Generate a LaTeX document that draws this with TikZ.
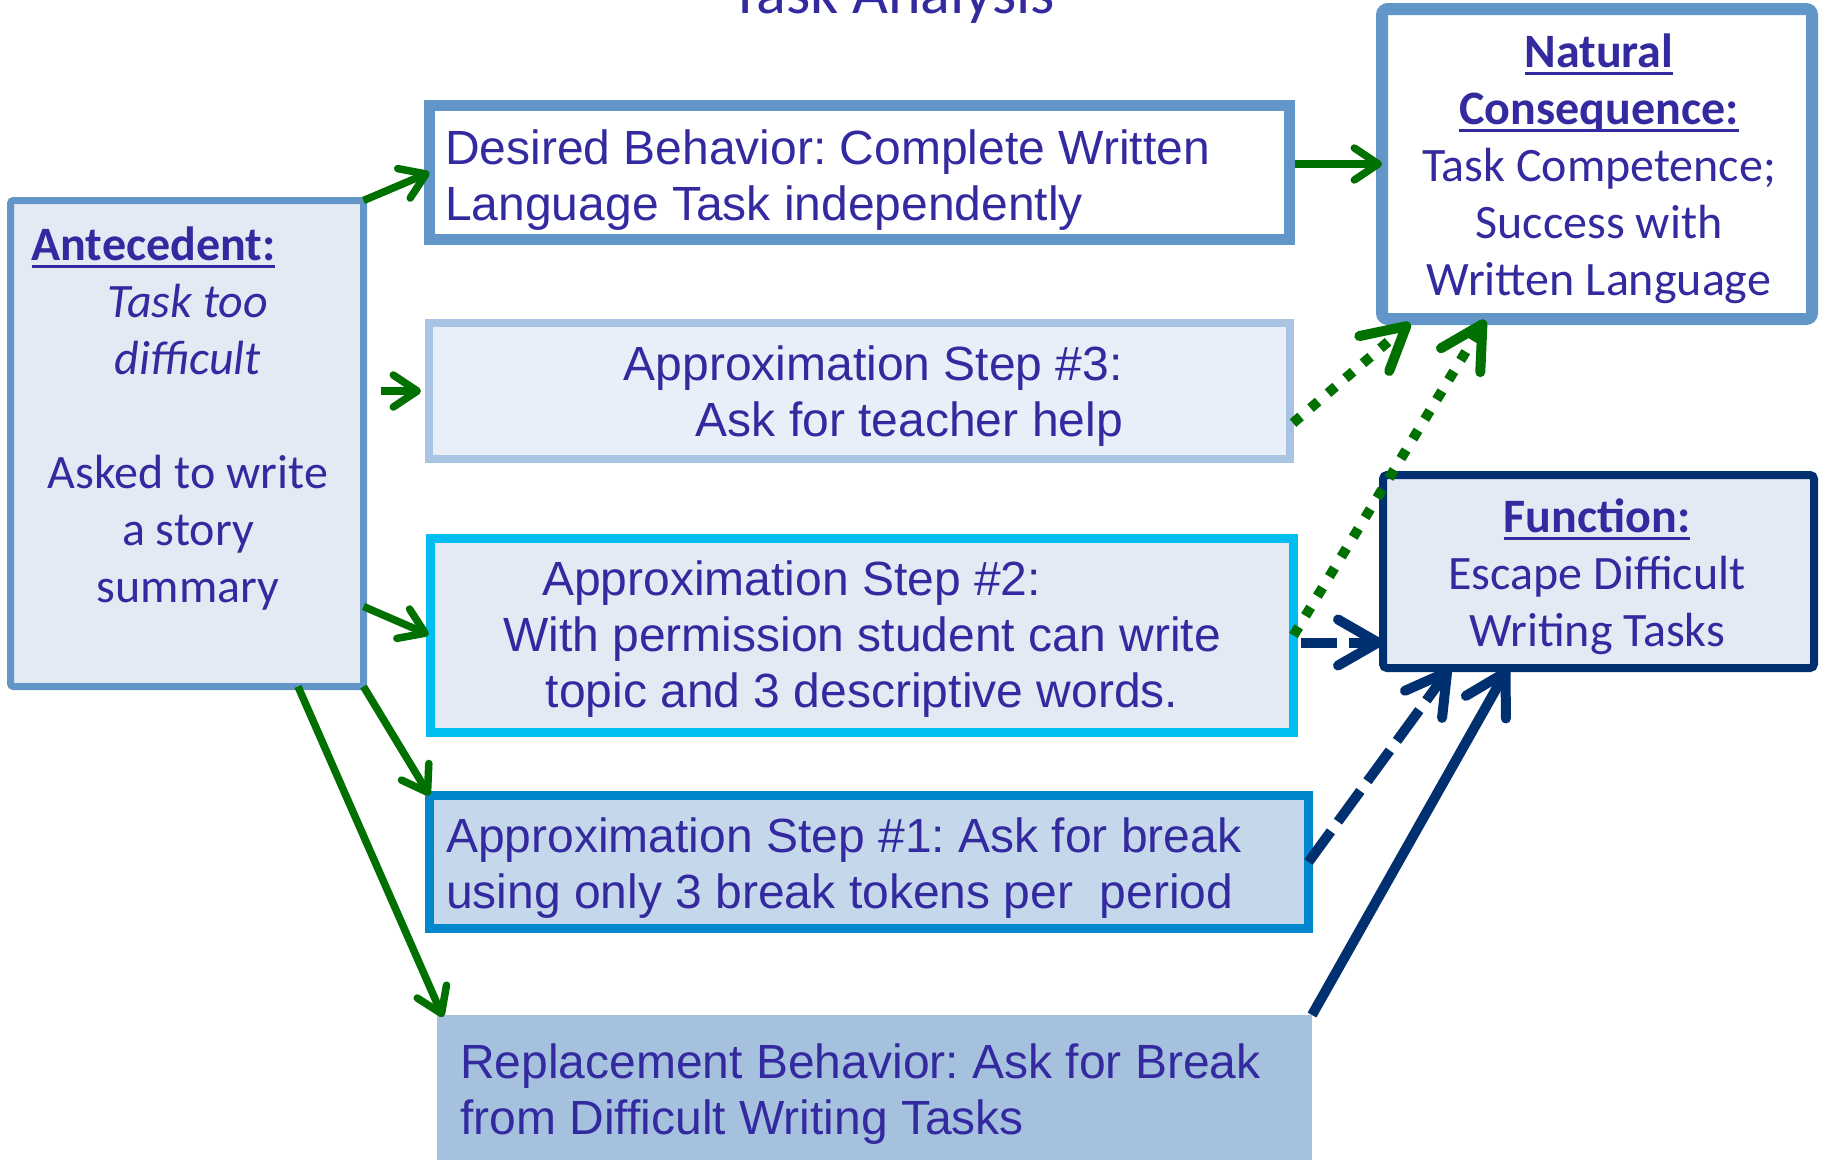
\documentclass[tikz,border=0pt]{standalone}
\usepackage{fontspec}
\setmainfont{Carlito}
\newfontfamily\arialfont{Liberation Sans}
\usetikzlibrary{positioning, calc, arrows.meta}
\definecolor{inkblue}{RGB}{51, 42, 160}
\definecolor{steelblue}{RGB}{98, 150, 201}
\definecolor{paleblue}{RGB}{227, 234, 244}
\definecolor{mistblue}{RGB}{168, 196, 226}
\definecolor{mistfill}{RGB}{232, 239, 248}
\definecolor{skyblue}{RGB}{0, 190, 240}
\definecolor{oceanblue}{RGB}{0, 134, 204}
\definecolor{oceanfill}{RGB}{197, 216, 235}
\definecolor{replfill}{RGB}{166, 193, 222}
\definecolor{navy}{RGB}{0, 48, 112}
\definecolor{leafgreen}{RGB}{0, 112, 0}

\newsavebox{\ulbox}
\newcommand{\uln}[1]{\sbox{\ulbox}{#1}\rlap{\rule[-7.5pt]{\wd\ulbox}{2.7pt}}\usebox{\ulbox}}
\frenchspacing

\begin{document}
\begin{tikzpicture}[
    x=1pt, y=-1pt,
    boxnode/.style={rectangle, inner sep=0pt, outer sep=0pt},
    calitext/.style={font=\fontsize{48}{57}\selectfont, text=inkblue, inner sep=0pt},
    arialtext/.style={font=\arialfont\fontsize{48}{56}\selectfont, text=inkblue, inner sep=0pt},
    greenarrow/.style={draw=leafgreen, line width=7.5pt, -{Straight Barb[length=24pt, width=32pt, round]}},
    dotarrow/.style={draw=leafgreen, line width=10pt, dash pattern=on 10pt off 13pt, -{Straight Barb[length=42pt, width=46pt, round]}},
    navyarrow/.style={draw=navy, line width=10pt, -{Straight Barb[length=40pt, width=46pt, round]}}
]
    \path[use as bounding box, fill=white] (0,0) rectangle (1825,1159);

    % =========================================================================
    % BOXES
    % =========================================================================
    \node[boxnode, draw=steelblue, fill=paleblue, line width=7pt, rounded corners=3pt, minimum width=353pt, minimum height=486pt] (ante) at (187, 443.5) {};
    \node[boxnode, draw=steelblue, fill=white, line width=11pt, minimum width=860pt, minimum height=134pt] (desired) at (859.5, 172.5) {};
    \node[boxnode, draw=mistblue, fill=mistfill, line width=8pt, minimum width=861pt, minimum height=136pt] (step3) at (859.5, 391) {};
    \node[boxnode, draw=skyblue, fill=paleblue, line width=9pt, minimum width=863pt, minimum height=194pt] (step2) at (862, 635.5) {};
    \node[boxnode, draw=oceanblue, fill=oceanfill, line width=9pt, minimum width=879pt, minimum height=133pt] (step1) at (869, 862) {};
    \node[boxnode, fill=replfill, minimum width=875pt, minimum height=155pt] (repl) at (874.5, 1092.5) {};
    \node[boxnode, draw=steelblue, fill=white, line width=12pt, rounded corners=6pt, minimum width=430pt, minimum height=310pt] (natural) at (1597, 164) {};
    \node[boxnode, draw=navy, fill=paleblue, line width=8pt, rounded corners=4pt, minimum width=431pt, minimum height=193pt] (function) at (1598.5, 571.5) {};

    % =========================================================================
    % TEXTS
    % =========================================================================
    \node[font=\fontsize{62}{70}\selectfont, text=inkblue, anchor=base, inner sep=0pt] (title) at (893, 13) {Task Analysis};

    \node[calitext, align=center, anchor=north] (antetext) at (188, 220.1) {\strut\uln{\textbf{Antecedent:}}\hspace*{69pt}\\ \textit{Task too}\\ \textit{difficult}\\[57pt] Asked to write\\ a story\\ summary\strut};
    \node[arialtext, align=left, anchor=north west] (desiredtext) at (445, 124.8) {\strut Desired Behavior: Complete Written\\ Language Task independently\strut};
    \node[arialtext, align=right, anchor=north east] (step3text) at (1123, 340.8) {\strut Approximation Step \#3:\\ Ask for teacher help\strut};
    \node[arialtext, align=center, anchor=north] (step2text) at (862, 555.8) {\strut Approximation Step \#2:\hspace*{141pt}\\ With permission student can write\\ topic and 3 descriptive words.\strut};
    \node[arialtext, align=left, anchor=north west] (step1text) at (446, 812.8) {\strut Approximation Step \#1: Ask for break\\ using only 3 break tokens per~~period\strut};
    \node[arialtext, align=left, anchor=north west] (repltext) at (460, 1038.8) {\strut Replacement Behavior: Ask for Break\\ from Difficult Writing Tasks\strut};
    \node[calitext, align=center, anchor=north] (naturaltext) at (1599, 27.1) {\strut\uln{\textbf{Natural}}\\ \uln{\textbf{Consequence:}}\\ Task Competence;\\ Success with\\ Written Language\strut};
    \node[calitext, align=center, anchor=north] (functiontext) at (1597, 492.1) {\strut\uln{\textbf{Function:}}\\ Escape Difficult\\ Writing Tasks\strut};

    % =========================================================================
    % CONNECTORS
    % =========================================================================
    % antecedent -> behaviours
    \draw[greenarrow] (ante.north east) -- (desired.west);
    \draw[greenarrow, shorten >=8pt] ($(ante.east |- step3.west)+(17,0)$) -- (step3.west);
    \draw[greenarrow, shorten >=2pt] ($(ante.south east)+(0,-80)$) -- (step2.west);
    \draw[greenarrow] (ante.south east) -- (step1.north west);
    \draw[greenarrow] ($(ante.south)+(111,0)$) -- ($(repl.north west)+(6,2)$);

    % desired -> natural consequence
    \draw[greenarrow, shorten <=5pt] (desired.east |- natural.west) -- (natural.west);

    % approximations -> natural consequence (dotted)
    \draw[dotarrow] ($(step3.east)+(3,32)$) -- ($(natural.south west)+(28,4)$);
    \draw[dotarrow] (step2.east) -- ($(natural.south west)+(103,1)$);

    % approximations / replacement -> function
    \coordinate (n1) at ($(step2.east)+(7,7)$);
    \draw[navyarrow, dash pattern=on 36pt off 12pt] (n1) -- (n1 -| function.west);
    \draw[navyarrow, dash pattern=on 38pt off 12pt] (step1.east) -- ($(function.south west)+(67,0)$);
    \draw[navyarrow] (repl.north east) -- ($(function.south west)+(125,0)$);

\end{tikzpicture}
\end{document}
